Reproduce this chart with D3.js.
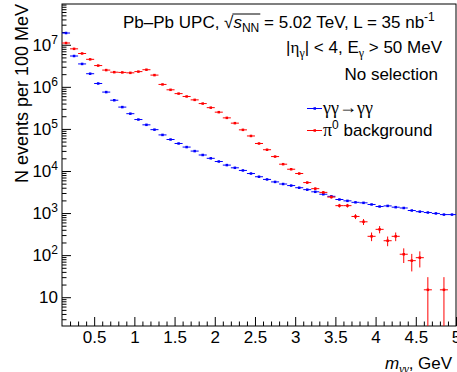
<!DOCTYPE html>
<head>
  <meta charset="utf-8">
  <script src="https://d3js.org/d3.v7.min.js"></script>
  <style>
    body { margin:0; background:#fff; }
    text { font-family: "Liberation Sans", Arial, sans-serif; fill:#000; white-space: pre; }
  </style>
</head>

<body>
  <script>
    // bin centres, 100 MeV bins
    var massBins = [0.15, 0.25, 0.35, 0.45, 0.55, 0.65, 0.75, 0.85, 0.95, 1.05,
                    1.15, 1.25, 1.35, 1.45, 1.55, 1.65, 1.75, 1.85, 1.95, 2.05,
                    2.15, 2.25, 2.35, 2.45, 2.55, 2.65, 2.75, 2.85, 2.95, 3.05,
                    3.15, 3.25, 3.35, 3.45, 3.55, 3.65, 3.75, 3.85, 3.95, 4.05,
                    4.15, 4.25, 4.35, 4.45, 4.55, 4.65, 4.75, 4.85, 4.95];

    var gammaGamma = [1.9e7, 5.4e6, 3.5e6, 2.05e6, 1.2e6, 7.5e5, 4.8e5, 3.3e5, 2.3e5, 1.67e5,
                      1.25e5, 9.6e4, 7.2e4, 5.6e4, 4.5e4, 3.7e4, 2.97e4, 2.4e4, 2.0e4, 1.68e4,
                      1.38e4, 1.19e4, 1.03e4, 8.7e3, 7.3e3, 6.3e3, 5.5e3, 4.9e3, 4.5e3, 4.0e3,
                      3.6e3, 3.2e3, 2.8e3, 2.5e3, 2.1e3, 1.95e3, 1.8e3, 1.75e3, 1.6e3, 1.43e3,
                      1.48e3, 1.38e3, 1.32e3, 1.15e3, 1.08e3, 1.03e3, 980, 920, 920];

    var pi0Background = [1.1e7, 8.0e6, 6.2e6, 4.5e6, 3.2e6, 2.5e6, 2.23e6, 2.2e6, 2.15e6, 2.3e6,
                         2.55e6, 1.9e6, 1.14e6, 8.5e5, 6.9e5, 5.9e5, 4.9e5, 4.0e5, 3.2e5, 2.5e5,
                         1.83e5, 1.37e5, 9.5e4, 6.8e4, 4.5e4, 3.2e4, 2.2e4, 1.45e4, 1.1e4, 8.7e3,
                         5.3e3, 3.8e3, 3.1e3, 2.4e3, 1.5e3, 1.5e3, 830, 620, 280, 410,
                         220, 280, 105, 74, 87, 15, null, 15, null];

    var pi0Errors = [13000, 11000, 9600, 8200, 6900, 6100, 5800, 5700, 5700, 5900,
                     6200, 5300, 4100, 3600, 3200, 3000, 2700, 2400, 2200, 1900,
                     1700, 1400, 1200, 1000, 820, 690, 570, 470, 400, 360,
                     280, 240, 220, 190, 150, 150, 110, 100, 65, 80,
                     57, 65, 40, 33, 36, 15, 0, 15, 0];

    var xTicks = [0.5, 1, 1.5, 2, 2.5, 3, 3.5, 4, 4.5, 5];
    var xTickLabels = ["0.5", "1", "1.5", "2", "2.5", "3", "3.5", "4", "4.5", "5"];
    var yTicks = [10, 100, 1e3, 1e4, 1e5, 1e6, 1e7];
    var yTickLabels = [["10", ""], ["10", "2"], ["10", "3"], ["10", "4"], ["10", "5"], ["10", "6"], ["10", "7"]];

    var binHalf = 0.05;
    var margin = { top: 4, right: 1, bottom: 46, left: 62 };
    var width = 457 - margin.left - margin.right;
    var height = 372 - margin.top - margin.bottom;

    var svg = d3.select("body").append("svg")
      .attr("width", 457)
      .attr("height", 372);
    var g = svg.append("g")
      .attr("transform", "translate(" + margin.left + "," + margin.top + ")");

    var xScale = d3.scaleLinear().domain([0.1, 5]).range([0, width]);
    var yScale = d3.scaleLog().domain([2.07, 9.3e7]).range([height, 0]);

    g.append("clipPath").attr("id", "clip")
      .append("rect").attr("width", width).attr("height", height);

    // minor ticks
    var xMinor = [];
    for (var v = 2; v <= 49; v++) if (v % 5 !== 0) xMinor.push(v / 10);
    var yMinor = [];
    [1, 10, 100, 1e3, 1e4, 1e5, 1e6, 1e7].forEach(function(dec) {
      for (var k = 2; k <= 9; k++) {
        var t = dec * k;
        if (t > 2.07 && t < 9.3e7) yMinor.push(t);
      }
    });

    g.append("g")
      .attr("transform", "translate(0," + height + ")")
      .call(d3.axisBottom(xScale).tickValues(xMinor).tickSizeInner(-4.5).tickSizeOuter(0).tickFormat(""))
      .call(function(a) { a.select(".domain").remove(); });
    var xAxis = g.append("g")
      .attr("transform", "translate(0," + height + ")")
      .call(d3.axisBottom(xScale).tickValues(xTicks).tickSizeInner(-9).tickSizeOuter(0).tickPadding(5)
        .tickFormat(function(d, i) { return xTickLabels[i]; }));
    xAxis.selectAll("text").style("font-size", "17px").attr("font-family", null);
    xAxis.select(".domain").remove();

    g.append("g")
      .call(d3.axisLeft(yScale).tickValues(yMinor).tickSizeInner(-4.5).tickSizeOuter(0).tickFormat(""))
      .call(function(a) { a.select(".domain").remove(); });
    var yAxis = g.append("g")
      .call(d3.axisLeft(yScale).tickValues(yTicks).tickSizeInner(-9).tickSizeOuter(0).tickPadding(4)
        .tickFormat(""));
    yAxis.select(".domain").remove();
    yAxis.selectAll(".tick text").each(function(d, i) {
      var t = d3.select(this).attr("font-family", null).style("font-size", "17px");
      t.append("tspan").text(yTickLabels[i][0]);
      if (yTickLabels[i][1]) t.append("tspan").attr("dy", "-7").style("font-size", "12px").text(yTickLabels[i][1]);
    });
    g.selectAll(".tick line").attr("stroke", "#000");

    // frame
    g.append("rect")
      .attr("width", width).attr("height", height)
      .attr("fill", "none").attr("stroke", "#000").attr("stroke-width", 1);

    // data points with error bars
    function drawSeries(values, errors, color) {
      var pts = massBins.map(function(m, i) {
        return { m: m, v: values[i], e: errors ? errors[i] : 0 };
      }).filter(function(d) { return d.v != null; });
      var s = g.append("g").attr("clip-path", "url(#clip)");
      var pg = s.selectAll("g").data(pts).enter().append("g");
      pg.append("line")
        .attr("x1", function(d) { return xScale(d.m - binHalf); })
        .attr("x2", function(d) { return xScale(d.m + binHalf); })
        .attr("y1", function(d) { return yScale(d.v); })
        .attr("y2", function(d) { return yScale(d.v); })
        .attr("stroke", color).attr("stroke-width", 1);
      pg.filter(function(d) { return d.e > 0; }).append("line")
        .attr("x1", function(d) { return xScale(d.m); })
        .attr("x2", function(d) { return xScale(d.m); })
        .attr("y1", function(d) { return yScale(d.v + d.e); })
        .attr("y2", function(d) { return d.v - d.e > 0 ? yScale(d.v - d.e) : height + 2; })
        .attr("stroke", color).attr("stroke-width", 1);
      pg.append("rect")
        .attr("x", function(d) { return xScale(d.m) - 1.25; })
        .attr("y", function(d) { return yScale(d.v) - 1.25; })
        .attr("width", 2.5).attr("height", 2.5)
        .attr("fill", color);
    }
    drawSeries(gammaGamma, null, "#0000ff");
    drawSeries(pi0Background, pi0Errors, "#ff0000");

    // rich text helper: pieces laid out one after another
    function richText(x, y, pieces, anchor) {
      var grp = svg.append("g");
      var cx = 0, pos = [];
      pieces.forEach(function(p) {
        var t = grp.append("text").attr("x", cx).attr("y", p.dy || 0)
          .style("font-size", (p.size || 17) + "px").text(p.t);
        if (p.italic) t.style("font-style", "italic");
        if (p.serif) t.style("font-family", '"Liberation Serif", "DejaVu Serif", serif');
        var w = t.node().getComputedTextLength();
        pos.push([cx, cx + w]);
        cx += w;
      });
      var x0 = anchor === "end" ? x - cx : x;
      grp.attr("transform", "translate(" + x0 + "," + y + ")");
      return { grp: grp, pos: pos };
    }

    var l1 = richText(123, 27.5, [
      { t: "Pb\u2013Pb UPC, " },
      { t: "\u221A" },
      { t: "s", italic: true },
      { t: "NN", size: 12, dy: 4 },
      { t: " = 5.02 TeV, L = 35 nb" },
      { t: "-1", size: 12, dy: -7 }
    ]);
    l1.grp.append("line")
      .attr("x1", l1.pos[1][1] - 1).attr("x2", l1.pos[3][1] + 1)
      .attr("y1", -13.5).attr("y2", -13.5)
      .attr("stroke", "#000").attr("stroke-width", 1);

    richText(442, 53, [
      { t: "|" },
      { t: "\u03B7", serif: true },
      { t: "\u03B3", serif: true, size: 12, dy: 4 },
      { t: "| < 4, E" },
      { t: "\u03B3", serif: true, size: 12, dy: 4 },
      { t: " > 50 MeV" }
    ], "end");

    richText(438, 80, [{ t: "No selection" }], "end");

    // legend
    var legend = [
      { y: 108.5, color: "#0000ff", pieces: [
        { t: "\u03B3\u03B3", serif: true, size: 18 },
        { t: "\u2192", serif: true, size: 18, dy: -1 },
        { t: "\u03B3\u03B3", serif: true, size: 18 }] },
      { y: 130.5, color: "#ff0000", pieces: [
        { t: "\u03C0", serif: true, size: 18 },
        { t: "0", size: 12, dy: -7 },
        { t: " background" }] }
    ];
    legend.forEach(function(l) {
      svg.append("line").attr("x1", 307).attr("x2", 322).attr("y1", l.y).attr("y2", l.y)
        .attr("stroke", l.color).attr("stroke-width", 1);
      svg.append("rect").attr("x", 313.5).attr("y", l.y - 1.25).attr("width", 2.5).attr("height", 2.5)
        .attr("fill", l.color);
      richText(323, l.y + 5.5, l.pieces);
    });

    // axis titles
    svg.append("text")
      .attr("transform", "rotate(-90)")
      .attr("x", -4).attr("y", 28)
      .attr("text-anchor", "end")
      .style("font-size", "18px")
      .text("N events per 100 MeV");

    richText(385, 369, [
      { t: "m", italic: true },
      { t: "\u03B3\u03B3", serif: true, italic: true, size: 12, dy: 4 },
      { t: ", GeV" }
    ]);
  </script>
</body>
